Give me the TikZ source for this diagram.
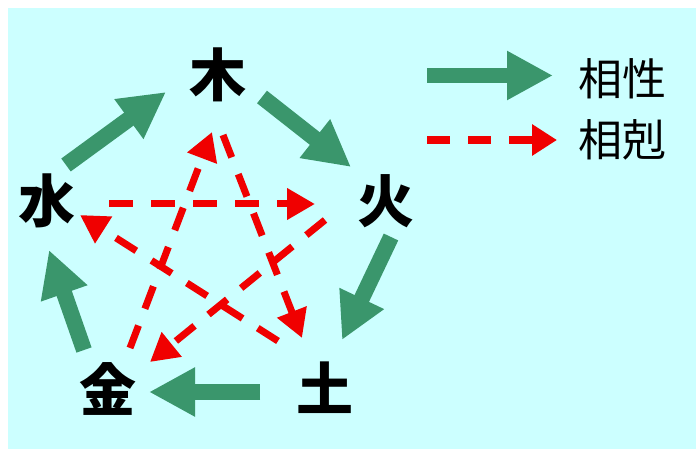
\documentclass[tikz,border=0pt]{standalone}
\usepackage{fontspec}
\newfontfamily\cjk{Noto Sans CJK JP}
\usetikzlibrary{arrows.meta}
\definecolor{bgcyan}{RGB}{204,255,255}
\definecolor{sgreen}{RGB}{58,150,108}
\definecolor{kred}{RGB}{240,0,0}
\begin{document}
\begin{tikzpicture}[x=1pt,y=-1pt,
  elem/.style={font=\cjk\bfseries\fontsize{57}{57}\selectfont, inner sep=0pt, text=black},
  legtext/.style={font=\cjk\fontsize{44}{44}\selectfont, inner sep=0pt, text=black},
  sheng/.style={draw=sgreen, line width=16pt, -{Triangle[length=46pt,width=46pt]}},
  shengleg/.style={draw=sgreen, line width=15pt, -{Triangle[length=46pt,width=46pt]}},
  ke/.style={draw=kred, line width=7pt, dash pattern=on 24pt off 18pt, -{Triangle[length=28pt,width=30pt]}},
  keleg/.style={draw=kred, line width=8pt, dash pattern=on 23pt off 18pt, -{Triangle[length=25pt,width=30pt]}}]
\path[fill=white] (0,0) rectangle (696,449);
\fill[bgcyan] (8,8) rectangle (696,449);

% elements
\node[elem] (mu)   at (218,75)  {木};
\node[elem] (huo)  at (386,201) {火};
\node[elem] (tu)   at (325,388) {土};
\node[elem] (jin)  at (108,389) {金};
\node[elem] (shui) at (47,201)  {水};

% generating cycle (green)
\coordinate (s1a) at (66,165);  \coordinate (s1b) at (166,92);
\coordinate (s2a) at (262,97);  \coordinate (s2b) at (351,167);
\coordinate (s3a) at (391,237); \coordinate (s3b) at (342,340);
\coordinate (s4a) at (260,392); \coordinate (s4b) at (149,392);
\coordinate (s5a) at (84,350);  \coordinate (s5b) at (49,250);
\draw[sheng] (s1a) -- (s1b);
\draw[sheng] (s2a) -- (s2b);
\draw[sheng] (s3a) -- (s3b);
\draw[sheng] (s4a) -- (s4b);
\draw[sheng] (s5a) -- (s5b);

% overcoming cycle (red)
\coordinate (k1a) at (130,348); \coordinate (k1b) at (212,132);
\coordinate (k2a) at (223,135); \coordinate (k2b) at (302,338);
\coordinate (k3a) at (278,341); \coordinate (k3b) at (80,215);
\coordinate (k4a) at (109,204); \coordinate (k4b) at (315,204);
\coordinate (k5a) at (325,220); \coordinate (k5b) at (150,362);
\draw[ke] (k1a) -- (k1b);
\draw[ke] (k2a) -- (k2b);
\draw[ke] (k3a) -- (k3b);
\draw[ke] (k4a) -- (k4b);
\draw[ke] (k5a) -- (k5b);

% legend
\node[legtext] (l1) at (622,79)  {相性};
\node[legtext] (l2) at (622,140) {相剋};
\coordinate (g1a) at (427,75.5); \coordinate (g1b) at (553,75.5);
\coordinate (r1a) at (427,140);  \coordinate (r1b) at (557,140);
\draw[shengleg] (g1a) -- (g1b);
\draw[keleg] (r1a) -- (r1b);
\end{tikzpicture}
\end{document}
